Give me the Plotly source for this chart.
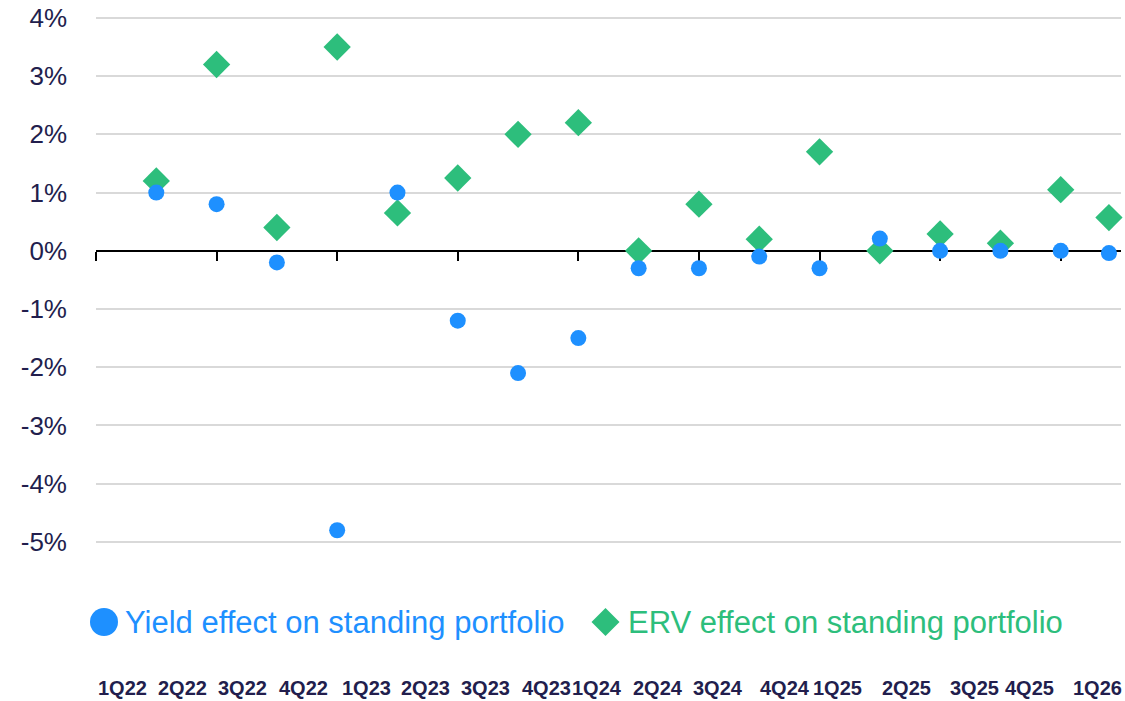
import plotly.graph_objects as go

# ---------------- data ----------------
quarters = ["1Q22", "2Q22", "3Q22", "4Q22", "1Q23", "2Q23", "3Q23", "4Q23", "1Q24",
            "2Q24", "3Q24", "4Q24", "1Q25", "2Q25", "3Q25", "4Q25", "1Q26"]
x_pos = [1, 2, 3, 4, 5, 6, 7, 8, 9, 10, 11, 12, 13, 14, 15, 16, 16.8]
yield_effect = [1.0, 0.8, -0.2, -4.8, 1.0, -1.2, -2.1, -1.5, -0.3, -0.3, -0.1, -0.3,
                0.21, 0.0, 0.0, 0.0, -0.04]
erv_effect = [1.2, 3.2, 0.4, 3.5, 0.65, 1.25, 2.0, 2.2, 0.0, 0.8, 0.2, 1.7,
              0.0, 0.29, 0.13, 1.05, 0.57]
y_tickvals = [4, 3, 2, 1, 0, -1, -2, -3, -4, -5]
y_ticktext = ["4%", "3%", "2%", "1%", "0%", "-1%", "-2%", "-3%", "-4%", "-5%"]
series_names = ["Yield effect on standing portfolio", "ERV effect on standing portfolio"]

# ---------------- style / layout ----------------
BLUE = "#1E90FF"
GREEN = "#2DBE7C"
NAVY = "#221E4D"
FONT = "Liberation Sans"
W, H = 1125, 701
M_L, M_R, M_T, M_B = 96, 4, 15, 130
Y_MIN, Y_MAX = -5.5, 4.05
X_MIN, X_MAX = 0, 17
PLOT_W = W - M_L - M_R
PLOT_H = H - M_T - M_B


def px_x(px):
    return (px - M_L) / PLOT_W


def px_y(py):
    return (H - M_B - py) / PLOT_H


# small horizontal nudges (px) of the quarter labels, as laid out in the original
label_nudge = [-2, -3, -3, -2, 0, -1, -1, -1, -10, -10, -10, -3, -11, -2, 5, 0, 8]
LEGEND_Y = 622

fig = go.Figure()
fig.add_trace(go.Scatter(
    x=x_pos, y=erv_effect, mode="markers", name=series_names[1],
    marker=dict(symbol="diamond", size=21, color=GREEN, line=dict(width=0)),
    cliponaxis=False, showlegend=False,
))
fig.add_trace(go.Scatter(
    x=x_pos, y=yield_effect, mode="markers", name=series_names[0],
    marker=dict(symbol="circle", size=16, color=BLUE, line=dict(width=0)),
    cliponaxis=False, showlegend=False,
))

annotations = []
for i, q in enumerate(quarters):
    annotations.append(dict(
        x=i + 0.48, y=px_y(688), xref="x", yref="paper", text=f"<b>{q}</b>",
        showarrow=False, xanchor="center", yanchor="middle", xshift=label_nudge[i],
        font=dict(family=FONT, size=20, color=NAVY),
    ))

# legend (keys drawn as pixel-sized shapes, labels as text)
legend_items = [
    (series_names[0], BLUE, 104, 123, "circle"),
    (series_names[1], GREEN, 605.5, 626, "diamond"),
]
shapes = []
for name, col, key_px, text_px, sym in legend_items:
    annotations.append(dict(
        x=px_x(text_px), y=px_y(LEGEND_Y), xref="paper", yref="paper", text=name,
        showarrow=False, xanchor="left", yanchor="middle",
        font=dict(family=FONT, size=31, color=col),
    ))
    common = dict(xref="paper", yref="paper", xsizemode="pixel", ysizemode="pixel",
                  xanchor=px_x(key_px), yanchor=px_y(LEGEND_Y),
                  fillcolor=col, line=dict(width=0), layer="above")
    if sym == "circle":
        shapes.append(dict(type="circle", x0=-14, x1=14, y0=-14, y1=14, **common))
    else:
        shapes.append(dict(type="path", path="M -14 0 L 0 14 L 14 0 L 0 -14 Z", **common))

fig.update_layout(
    width=W, height=H,
    margin=dict(l=M_L, r=M_R, t=M_T, b=M_B),
    paper_bgcolor="white", plot_bgcolor="white",
    font=dict(family=FONT, color=NAVY),
    showlegend=False,
    annotations=annotations,
    shapes=shapes,
    xaxis=dict(
        range=[X_MIN, X_MAX], showgrid=False, zeroline=False,
        anchor="free", position=(0 - Y_MIN) / (Y_MAX - Y_MIN),
        showline=True, linecolor="black", linewidth=2,
        ticks="outside", tick0=0, dtick=2, ticklen=9, tickwidth=2, tickcolor="black",
        showticklabels=False, layer="below traces",
    ),
    yaxis=dict(
        range=[Y_MIN, Y_MAX], tickvals=y_tickvals, ticktext=y_ticktext,
        showgrid=True, gridcolor="#D9D9D9", gridwidth=2,
        zeroline=False, showline=False, ticks="",
        tickfont=dict(family=FONT, size=26, color=NAVY),
        ticklabelstandoff=28, layer="below traces",
    ),
)

fig.write_html("out.html")
